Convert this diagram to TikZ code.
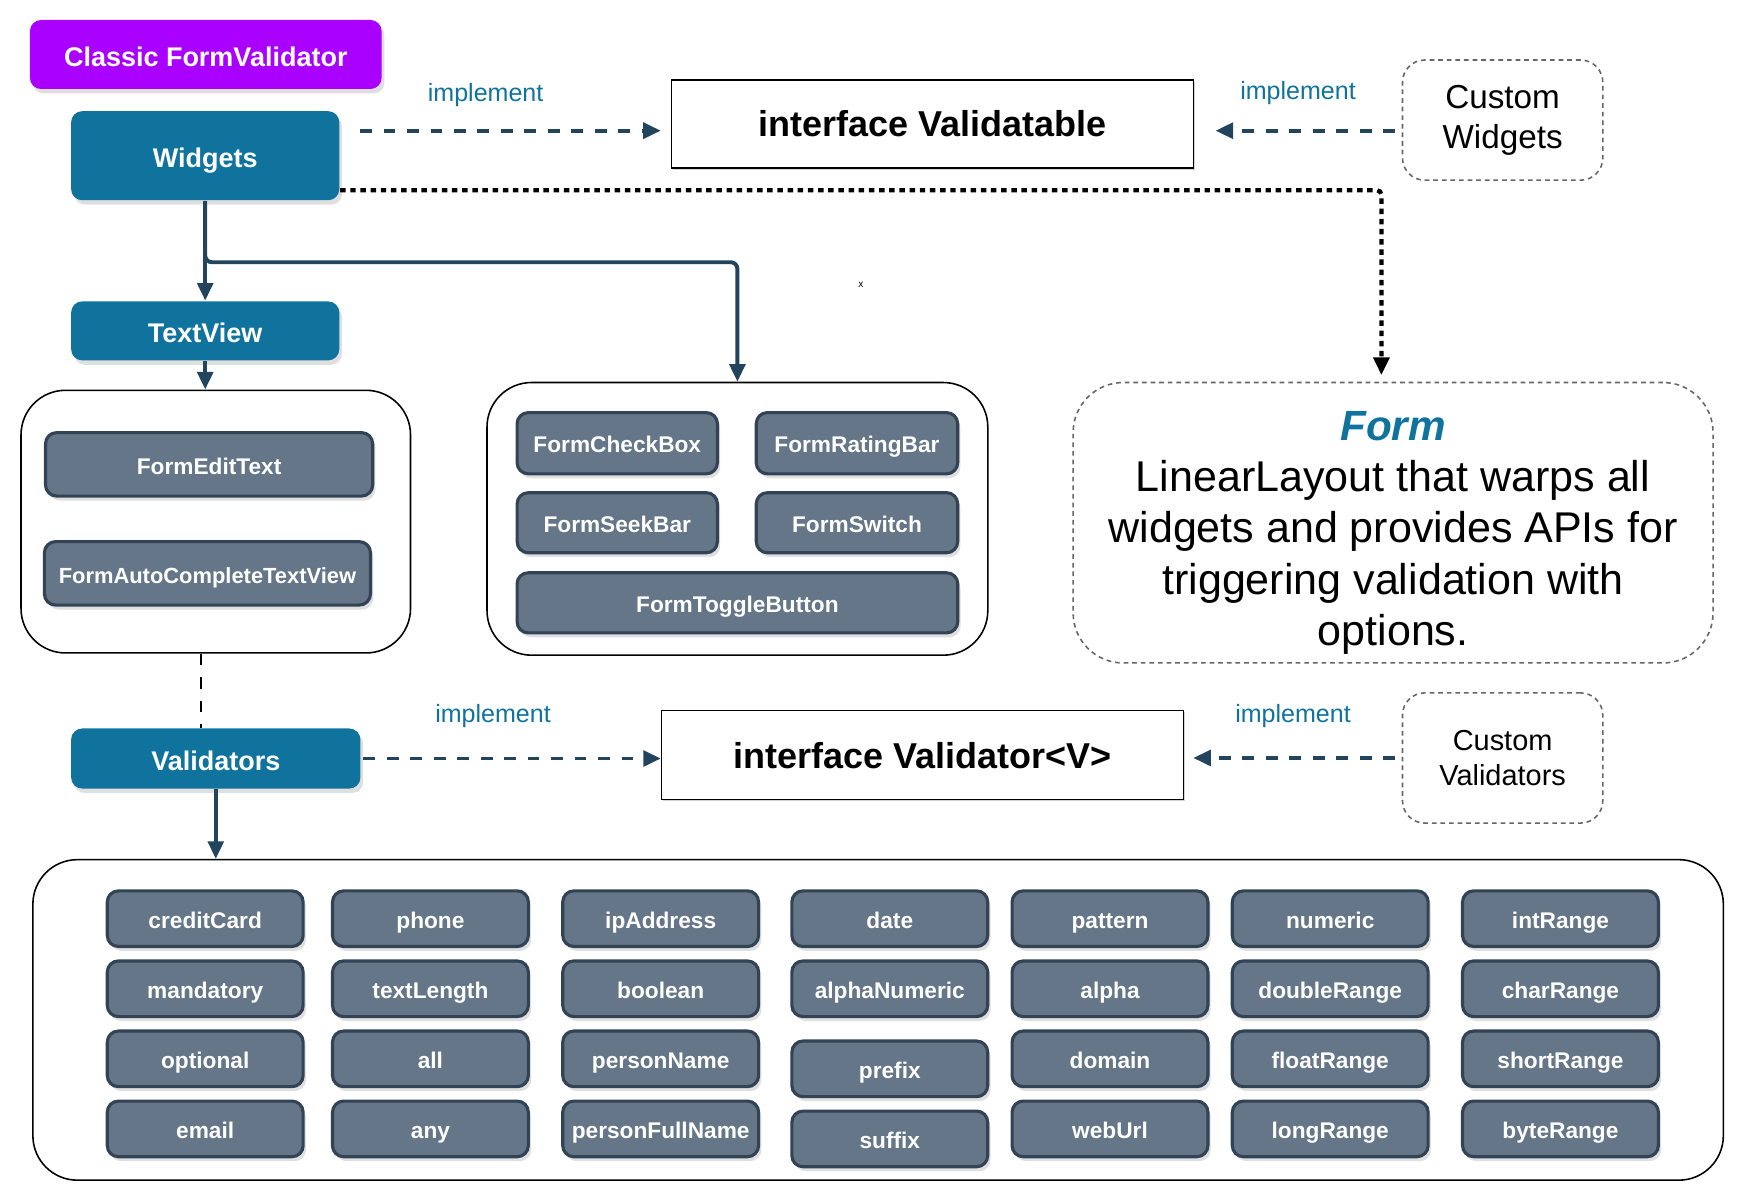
\documentclass[tikz,border=0pt]{standalone}
\usepackage{fontspec}
\setmainfont{Liberation Sans}
\usepackage{xcolor}
\usepackage{tikz}
\usetikzlibrary{positioning}
\usetikzlibrary{arrows.meta}
\usetikzlibrary{shadows}
\definecolor{dioblue}{HTML}{10739E}
\definecolor{diopurple}{HTML}{AA00FF}
\definecolor{diogray}{HTML}{647687}
\definecolor{diograyline}{HTML}{314354}
\definecolor{dioarrow}{HTML}{23445D}
\tikzset{%
  every box/.style={
    rounded corners=0.1cm,
    drop shadow={shadow xshift=0.025cm, shadow yshift=-0.04cm, opacity=0.25}
  },
  head box/.style={
    every box,
    fill=dioblue,
    text=white,
    text height=6.2pt,
    text depth=0.3pt,
    font=\fontsize{6.9}{8}\selectfont\bfseries
  },
  item box/.style={
    every box,
    fill=diogray,
    draw=diograyline,
    line width=0.8pt,
    text=white,
    inner xsep=1pt,
    text height=5.3pt,
    text depth=0.3pt,
    font=\fontsize{5.8}{7}\selectfont\bfseries
  },
  group box/.style={
    draw,
    rounded corners=0.4cm
  },
  iface box/.style={
    draw,
    fill=white,
    drop shadow={shadow xshift=0.015cm, shadow yshift=-0.015cm, opacity=0.35},
    font=\fontsize{9.2}{11}\selectfont\bfseries
  },
  custom box/.style={
    draw=black!60,
    dash pattern=on 1.2pt off 1pt,
    rounded corners=0.2cm,
    align=center,
    font=\fontsize{8.5}{10.2}\selectfont
  },
  impl text/.style={
    text=dioblue,
    font=\fontsize{6.4}{7.5}\selectfont
  },
}
\def\implement{implement}

\begin{document}
\begin{tikzpicture}[x=0.01cm,y=0.01cm]
      \tikzstyle{conn} = [draw=dioarrow, -{Triangle[length=4.5pt,width=4pt]}, line width=1pt]
      \tikzstyle{impl} = [draw=dioarrow, -{Triangle[length=4.5pt,width=4pt]}, line width=1pt, dash pattern=on 3pt off 3pt]
      \tikzstyle{uses} = [draw, -{Triangle[length=4.5pt,width=4pt]}, line width=1.1pt, dash pattern=on 1.4pt off 1.2pt]
      \useasboundingbox (0,0) rectangle (1568,-1080);

      % Title
      \node[head box,fill=diopurple,minimum width=3.16cm,minimum height=0.62cm] (classic) at (185,-49) {Classic FormValidator};

      % Widgets and TextView
      \node[head box,minimum width=2.41cm,minimum height=0.8cm] (widgets) at (184.5,-140) {Widgets};
      \node[head box,minimum width=2.41cm,minimum height=0.53cm] (textview) at (184.5,-297.5) {TextView};

      % TextView group
      \node[group box,minimum width=3.5cm,minimum height=2.36cm] (grptext) at (194,-469) {};
      \node[item box,minimum width=2.94cm,minimum height=0.57cm] (formedit) at (188,-417.5) {FormEditText};
      \node[item box,minimum width=2.93cm,minimum height=0.57cm,font=\fontsize{5.6}{7}\selectfont\bfseries] (formauto) at (186.5,-515.5) {FormAutoCompleteTextView};

      % Widget group
      \node[group box,minimum width=4.5cm,minimum height=2.45cm] (grpwidgets) at (663,-466.5) {};
      \node[item box,minimum width=1.8cm,minimum height=0.55cm] (checkbox) at (555,-398.5) {FormCheckBox};
      \node[item box,minimum width=1.81cm,minimum height=0.55cm] (ratingbar) at (770.5,-398.5) {FormRatingBar};
      \node[item box,minimum width=1.8cm,minimum height=0.54cm] (seekbar) at (555,-470) {FormSeekBar};
      \node[item box,minimum width=1.81cm,minimum height=0.54cm] (switch) at (770.5,-470) {FormSwitch};
      \node[item box,minimum width=3.96cm,minimum height=0.54cm] (toggle) at (663,-542) {FormToggleButton};

      % Interfaces
      \node[iface box,minimum width=4.69cm,minimum height=0.79cm] (validatable) at (838.5,-111.5) {interface Validatable};
      \node[iface box,minimum width=4.69cm,minimum height=0.8cm] (validator) at (829.5,-679) {interface Validator<V>};

      % Custom ones
      \node[custom box,minimum width=1.8cm,minimum height=1.08cm] (customwidgets) at (1351,-108) {Custom\\Widgets};
      \node[custom box,minimum width=1.8cm,minimum height=1.17cm,font=\fontsize{7.4}{9}\selectfont] (customvalidators) at (1351,-681.5) {Custom\\Validators};

      % Form
      \node[custom box,minimum width=5.75cm,minimum height=2.52cm,rounded corners=0.45cm] (form) at (1252.5,-470) {};
      \node[align=center,font=\fontsize{11}{13.1}\selectfont] (formtext) at ([yshift=-0.09cm]form.center)
            {{\fontsize{10.8}{13.1}\selectfont\bfseries\itshape\color{dioblue}Form}\\
             LinearLayout that warps all\\
             widgets and provides APIs for\\
             triggering validation with\\
             options.};
      \node[font=\fontsize{2.6}{3}\selectfont] (stray) at (774,-256) {x};

      % Validators
      \node[head box,minimum width=2.6cm,minimum height=0.54cm] (validators) at (194,-682) {Validators};
      \node[group box,minimum width=15.19cm,minimum height=2.88cm] (grpvalidators) at (789.5,-917) {};
      \foreach \x/\a/\b/\c/\d/\dy in {184.5/creditCard/mandatory/optional/email/0,
                                      387/phone/textLength/all/any/0,
                                      594/ipAddress/boolean/personName/personFullName/0,
                                      800/date/alphaNumeric/prefix/suffix/9,
                                      998/pattern/alpha/domain/webUrl/0,
                                      1196/numeric/doubleRange/floatRange/longRange/0,
                                      1403/intRange/charRange/shortRange/byteRange/0} {
        \node[item box,minimum width=1.76cm,minimum height=0.5cm] (\a) at (\x,-826) {\a};
        \node[item box,minimum width=1.76cm,minimum height=0.5cm] (\b) at (\x,-889) {\b};
        \node[item box,minimum width=1.76cm,minimum height=0.5cm] (\c) at (\x,-952-\dy) {\c};
        \node[item box,minimum width=1.76cm,minimum height=0.5cm] (\d) at (\x,-1015-\dy) {\d};
      }

      % widgets -> textview -> group, widgets -> widget group
      \coordinate (branch) at ([yshift=-0.55cm]widgets.south);
      \path[conn] (widgets.south) -- (textview.north);
      \path[conn,rounded corners=0.06cm] (widgets.south) -- (branch) -| (grpwidgets.north);
      \path[conn] (textview.south) -- (textview.south |- grptext.north);

      % implement
      \path[impl,shorten <=0.18cm,shorten >=0.09cm] ([yshift=-0.06cm]validatable.west -| widgets.east) --
            node[impl text,above=0.08cm,pos=0.44] (implwidgets) {\implement} ([yshift=-0.06cm]validatable.west);
      \path[impl,shorten <=0.06cm,shorten >=0.19cm] ([yshift=-0.06cm]validatable.east -| customwidgets.west) --
            node[impl text,above=0.1cm] (implcustomw) {\implement} ([yshift=-0.06cm]validatable.east);
      \path[impl,shorten <=0.02cm] (validators.east) --
            node[impl text,above=0.14cm,pos=0.44] (implvalidators) {\implement} (validators.east -| validator.west);
      \path[impl,shorten <=0.06cm,shorten >=0.08cm] (customvalidators.west) --
            node[impl text,above=0.14cm] (implcustomv) {\implement} (customvalidators.west -| validator.east);

      % widgets -> form
      \path[uses,rounded corners=0.04cm,shorten >=0.06cm] ([yshift=-0.31cm]widgets.east) -| ([xshift=-0.105cm]form.north);

      % group -> validators
      \draw[dash pattern=on 3pt off 3pt,line width=0.6pt] ([xshift=-0.13cm]validators.north |- grptext.south) -- ([xshift=-0.13cm]validators.north);
      \path[conn] (validators.south) -- (validators.south |- grpvalidators.north);
\end{tikzpicture}
\end{document}
